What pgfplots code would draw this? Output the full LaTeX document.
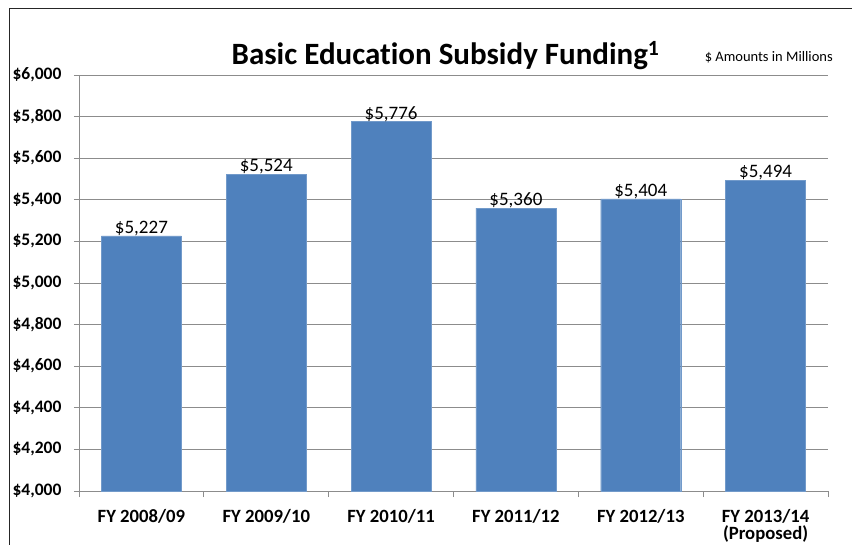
\documentclass[border=0pt]{standalone}
\usepackage{pgfplots}
\pgfplotsset{compat=1.18}
\usepackage{fontspec}
\setmainfont{Carlito}[Ligatures=NoCommon]
\definecolor{barblue}{RGB}{79,129,189}
\definecolor{gridgray}{RGB}{140,140,140}

\begin{document}
\begin{tikzpicture}
\path[use as bounding box] (-79pt,-53pt) rectangle (773pt,491pt);
\draw[line width=1.3pt, black!85] (-69.5pt,-60pt) -- (-69.5pt,482.5pt) -- (780pt,482.5pt);
\begin{axis}[
    at={(0,0)}, anchor=south west,
    scale only axis, width=749pt, height=416pt,
    xmin=-0.5, xmax=5.5, ymin=4000, ymax=6000,
    ytick distance=200,
    xtick={0,...,5},
    xticklabels={FY 2008/09, FY 2009/10, FY 2010/11, FY 2011/12, FY 2012/13, {FY 2013/14\\(Proposed)}},
    minor xtick={-0.5,0.5,...,5.5},
    major x tick style={draw=none},
    minor tick length=6pt, major tick length=5pt,
    tick align=outside,
    tick style={gridgray, line width=0.8pt},
    axis x line*=bottom, axis y line*=left,
    axis line style={gridgray, line width=0.8pt, -},
    ymajorgrids, grid style={gridgray, line width=0.8pt},
    /pgf/number format/.cd, 1000 sep={,}, assume math mode=true,
    /pgfplots/.cd,
    yticklabel={\$\pgfmathprintnumber{\tick}},
    yticklabel style={font=\fontsize{17.5}{19}\selectfont\bfseries, xshift=-9pt},
    xticklabel style={font=\fontsize{18.7}{17}\selectfont\bfseries, align=center, yshift=-10pt},
    ybar, bar width=80pt,
    nodes near coords={\$\pgfmathprintnumber{\pgfplotspointmeta}},
    every node near coord/.append style={font=\fontsize{19}{21}\selectfont, inner sep=0pt, anchor=base, yshift=2.5pt},
    clip=false,
]
\addplot[fill=barblue, draw=barblue!80!white] coordinates {
    (0,5227) (1,5524) (2,5776) (3,5360) (4,5404) (5,5494)
};
\end{axis}
\node[anchor=base, font=\fontsize{31}{33}\selectfont\bfseries] at (366.5pt,426pt) {Basic Education Subsidy Funding\textsuperscript{1}};
\node[anchor=base east, font=\fontsize{14.5}{16}\selectfont, inner sep=0pt] at (754pt,429pt) {\$ Amounts in Millions};
\end{tikzpicture}
\end{document}
